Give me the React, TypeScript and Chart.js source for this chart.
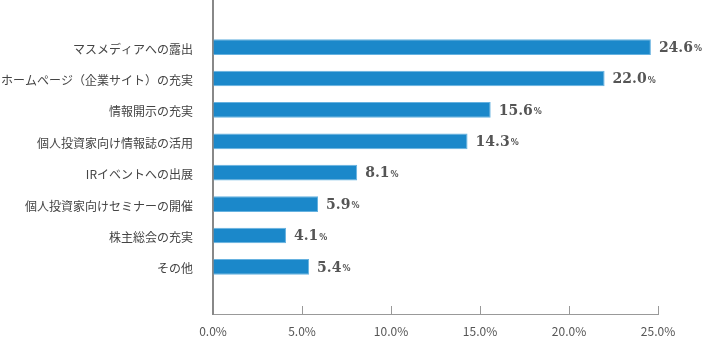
import React, { useEffect, useRef } from "react";
import { Chart, registerables } from "chart.js";

Chart.register(...registerables);

const categories = [
  "マスメディアへの露出",
  "ホームページ（企業サイト）の充実",
  "情報開示の充実",
  "個人投資家向け情報誌の活用",
  "IRイベントへの出展",
  "個人投資家向けセミナーの開催",
  "株主総会の充実",
  "その他",
];
const values = [24.6, 22.0, 15.6, 14.3, 8.1, 5.9, 4.1, 5.4];
const xTicks = [0, 5, 10, 15, 20, 25];

const W = 703;
const H = 338;

export default function App() {
  const ref = useRef<HTMLCanvasElement | null>(null);

  useEffect(() => {
    if (!ref.current) return;
    // one empty band above and below the categories
    const labels = ["", ...categories, ""];
    const data = [null, ...values, null];

    const tickMarks = {
      id: "tickMarks",
      afterDraw(chart: any) {
        const ctx = chart.ctx;
        const xs = chart.scales.x;
        const bottom = chart.chartArea.bottom;
        ctx.save();
        ctx.strokeStyle = "#999";
        ctx.lineWidth = 1;
        xTicks.forEach((t) => {
          if (t === 0) return;
          const px = Math.round(xs.getPixelForValue(t)) + 0.5;
          ctx.beginPath();
          ctx.moveTo(px, bottom - 8);
          ctx.lineTo(px, bottom);
          ctx.stroke();
        });
        ctx.restore();
      },
    };

    const valueLabels = {
      id: "valueLabels",
      afterDatasetsDraw(chart: any) {
        const ctx = chart.ctx;
        const meta = chart.getDatasetMeta(0);
        ctx.save();
        ctx.fillStyle = "#555";
        ctx.textBaseline = "middle";
        ctx.textAlign = "left";
        meta.data.forEach((bar: any, i: number) => {
          const v = data[i];
          if (v == null) return;
          const x = bar.x + 8;
          const y = bar.y + 1;
          ctx.font = "bold 14px 'DejaVu Serif'";
          const s = v.toFixed(1);
          ctx.fillText(s, x, y);
          const w = ctx.measureText(s).width;
          ctx.font = "bold 8px 'DejaVu Sans'";
          ctx.fillText("%", x + w + 1, y + 1);
        });
        ctx.restore();
      },
    };

    const chart = new Chart(ref.current, {
      type: "bar",
      data: {
        labels,
        datasets: [
          {
            data,
            backgroundColor: "#1b88ca",
            borderColor: "#66b2e0",
            borderWidth: 1,
            categoryPercentage: 1,
            barPercentage: 0.5,
          },
        ],
      },
      options: {
        indexAxis: "y",
        animation: false,
        responsive: false,
        maintainAspectRatio: false,
        layout: { padding: { left: 0, right: 45, top: 0, bottom: 0 } },
        plugins: {
          legend: { display: false },
          tooltip: { enabled: false },
        },
        scales: {
          x: {
            type: "linear",
            min: 0,
            max: 25,
            afterBuildTicks(scale: any) {
              scale.ticks = xTicks.map((v) => ({ value: v }));
            },
            afterFit(scale: any) {
              scale.height = 24;
              scale.paddingLeft = 0;
              scale.paddingRight = 0;
            },
            grid: { display: true, drawOnChartArea: false, drawTicks: false },
            border: { display: true, color: "#999", width: 1 },
            ticks: {
              padding: 10,
              color: "#555",
              font: { family: "'Noto Sans CJK JP'", size: 12 },
              callback: (v: any) => Number(v).toFixed(1) + "%",
              maxRotation: 0,
            },
          },
          y: {
            type: "category",
            offset: true,
            afterFit(scale: any) {
              scale.width = 213;
              scale.paddingTop = 0;
              scale.paddingBottom = 0;
            },
            grid: { display: false, drawTicks: false },
            border: { display: true, color: "#888", width: 2 },
            ticks: {
              padding: 20,
              labelOffset: 2,
              color: "#444",
              autoSkip: false,
              font: { family: "'Noto Sans CJK JP'", size: 12 },
            },
          },
        },
      },
      plugins: [tickMarks, valueLabels],
    } as any);
    return () => chart.destroy();
  }, []);

  return (
    <div style={{ position: "absolute", left: 0, top: 0, width: W, height: H }}>
      <canvas ref={ref} width={W} height={H} style={{ width: W, height: H }} />
    </div>
  );
}
